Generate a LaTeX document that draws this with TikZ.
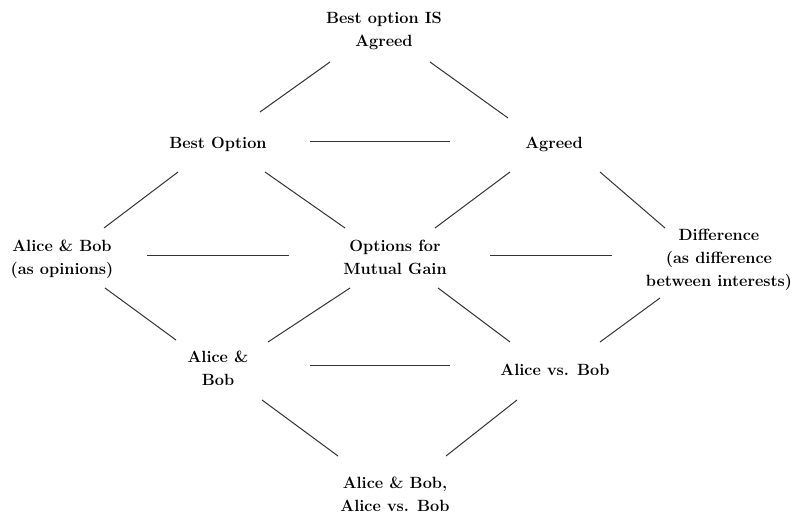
\documentclass[tikz,border=0pt]{standalone}
\begin{document}
\begin{tikzpicture}[x=0.75pt,y=-0.75pt,
  lbl/.style={align=center,inner sep=0pt,font=\bfseries\fontsize{12.2}{17}\selectfont},
  link/.style={draw=black!80,line width=0.75pt}]
\useasboundingbox (0,0) rectangle (796,520);
% lattice nodes
\node[lbl] (T)  at (384,31)    {Best option IS\\Agreed};
\node[lbl] (BO) at (218,144)   {Best Option};
\node[lbl] (AG) at (554,144)   {Agreed};
\node[lbl] (AO) at (62,259)    {Alice \& Bob\\(as opinions)};
\node[lbl] (OM) at (395,257.5) {Options for\\Mutual Gain};
\node[lbl] (DF) at (719,260)   {Difference\\(as difference\\between interests)};
\node[lbl] (AB) at (218,368.5) {Alice \&\\Bob};
\node[lbl] (AV) at (555,369.5) {Alice vs. Bob};
\node[lbl] (BT) at (395,494)   {Alice \& Bob,\\Alice vs. Bob};
% connectors
\draw[link] ([shift={(-54,31)}]T.center)    -- ([shift={(42,-32)}]BO.center);
\draw[link] ([shift={(46,31)}]T.center)     -- ([shift={(-46,-26)}]AG.center);
\draw[link] ([shift={(92,-2)}]BO.center)    -- ([shift={(-104,-2)}]AG.center);
\draw[link] ([shift={(-40,28)}]BO.center)   -- ([shift={(42,-31)}]AO.center);
\draw[link] ([shift={(47,28)}]BO.center)    -- ([shift={(-50,-29.5)}]OM.center);
\draw[link] ([shift={(-44,28)}]AG.center)   -- ([shift={(40,-29.5)}]OM.center);
\draw[link] ([shift={(46,28)}]AG.center)    -- ([shift={(-54,-32)}]DF.center);
\draw[link] ([shift={(85,-3)}]AO.center)    -- ([shift={(-106,-1.5)}]OM.center);
\draw[link] ([shift={(95,-1.5)}]OM.center)  -- ([shift={(-107,-4)}]DF.center);
\draw[link] ([shift={(43,29)}]AO.center)    -- ([shift={(-42,-28.5)}]AB.center);
\draw[link] ([shift={(-45,30.5)}]OM.center) -- ([shift={(50,-26.5)}]AB.center);
\draw[link] ([shift={(43,30.5)}]OM.center)  -- ([shift={(-45,-27.5)}]AV.center);
\draw[link] ([shift={(-59,38)}]DF.center)   -- ([shift={(45,-27.5)}]AV.center);
\draw[link] ([shift={(92,-3.5)}]AB.center)  -- ([shift={(-105,-4.5)}]AV.center);
\draw[link] ([shift={(44,31.5)}]AB.center)  -- ([shift={(-57,-38)}]BT.center);
\draw[link] ([shift={(-38,30.5)}]AV.center) -- ([shift={(51,-38)}]BT.center);
\end{tikzpicture}
\end{document}
